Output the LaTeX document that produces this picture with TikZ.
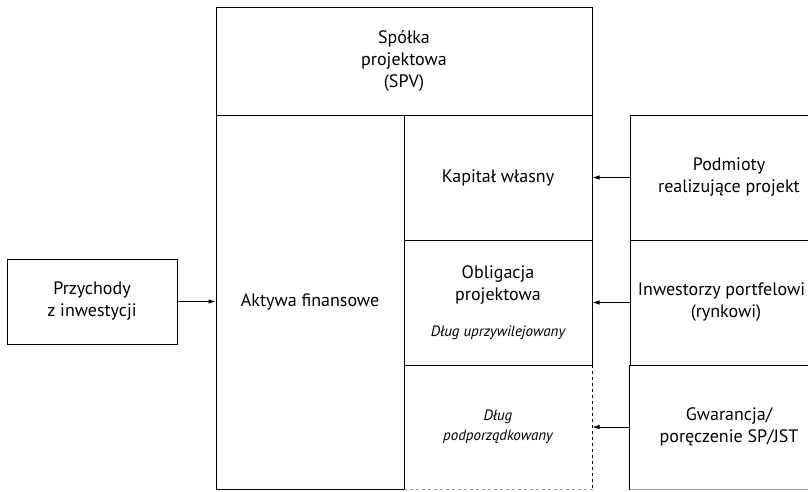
\documentclass[tikz,border=0pt]{standalone}
\usepackage{fontspec}
\setmainfont{PT Sans}
\usetikzlibrary{arrows.meta}
\tikzset{
  blok/.style={draw, line width=1pt, minimum width=#1, inner sep=0pt, align=center,
    font=\fontsize{18}{22}\selectfont},
  blok/.default=188pt,
  kursywa/.style={font=\fontsize{15}{20}\selectfont\itshape},
  strz/.style={-{Latex[length=7pt,width=4.5pt]}, line width=0.8pt}
}
\begin{document}
\begin{tikzpicture}[x=1pt,y=-1pt]
\useasboundingbox (0,0) rectangle (808,491);
\clip (0,0) rectangle (808,491);

%SPV
\node [blok=376pt, minimum height=108pt] (spv) at (404,61) {Spółka\\projektowa\\(SPV)};

%Left column
\node [blok, minimum height=374pt] (aktywa) at (310,302) {Aktywa finansowe};
\node [blok=170pt, minimum height=85pt] (przych) at (92,301.5) {Przychody\\z inwestycji};

%Middle column
\node [blok, minimum height=125pt] (kapital) at (498,177.5) {Kapitał własny};
\node [blok, minimum height=125pt] (oblig) at (498,302.5)
  {Obligacja\\projektowa\\[14pt]{\fontsize{15}{20}\selectfont\itshape Dług uprzywilejowany}};
\node [blok, kursywa, draw=none, minimum height=124pt] (podp) at (498,427)
  {Dług\\podporządkowany};
\draw [dashed, line width=1pt] (podp.north east) -- (podp.south east);
\draw [dashed, line width=1pt, black!40] (podp.south west) -- (podp.south east);

%Right column
\node [blok=198pt, minimum height=125pt] (podmioty) at (729,177.5) {Podmioty\\realizujące projekt};
\node [blok=198pt, minimum height=125pt] (inwest) at (729,302.5)
  {Inwestorzy portfelowi\hspace*{15pt}\\(rynkowi)\hspace*{6pt}};
\node [blok=198pt, minimum height=124pt, draw=none] (gwar) at (729,427) {Gwarancja/\\poręczenie SP/JST};
\draw [line width=1pt] (gwar.south west) -- (gwar.north west);
\draw [line width=1pt, black!40] (gwar.south west) -- (gwar.south east);

%Arrows
\draw [strz] (przych.east) -- (przych.east -| aktywa.west);
\foreach \z/\d in {podmioty/kapital, inwest/oblig, gwar/podp}
{
\draw [strz] (\z.west) -- (\d.east);
}

\end{tikzpicture}
\end{document}
